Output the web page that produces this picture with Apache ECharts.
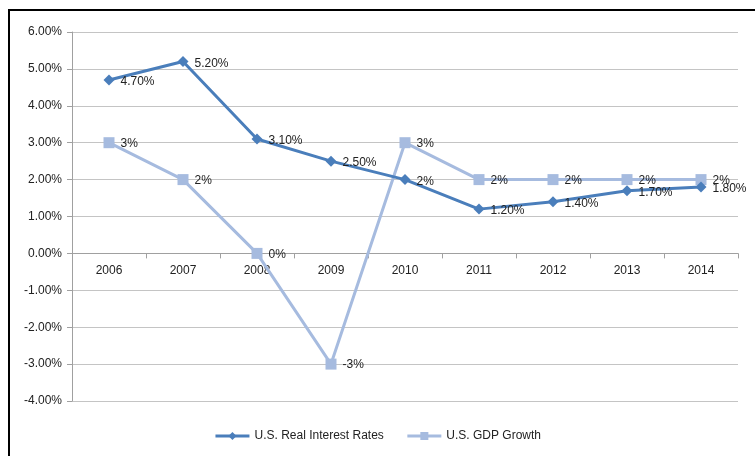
<!DOCTYPE html>
<html>
<head>
<meta charset="utf-8">
<script src="https://cdn.jsdelivr.net/npm/echarts@6/dist/echarts.min.js"></script>
<style>
  html, body { margin: 0; padding: 0; background: #fff; }
  #chart { width: 755px; height: 456px; }
</style>
</head>
<body>
<div id="chart"></div>
<script>
const years = ['2006', '2007', '2008', '2009', '2010', '2011', '2012', '2013', '2014'];
const realInterestRates = [4.7, 5.2, 3.1, 2.5, 2.0, 1.2, 1.4, 1.7, 1.8];
const gdpGrowth = [3, 2, 0, -3, 3, 2, 2, 2, 2];
const yTicks = { min: -4, max: 6, step: 1 };

// "2%" for whole numbers, "4.70%" otherwise
function pctLabel(v) {
  return Number.isInteger(v) ? v + '%' : v.toFixed(2) + '%';
}

const FONT = '"Liberation Sans", Arial, sans-serif';
const DARK = '#4a7ebb';
const LIGHT = '#a6bbdf';

const GRID = { left: 72, right: 17, top: 32, bottom: 55 };
const plotHeight = 456 - GRID.top - GRID.bottom;
// lift the category axis (line, ticks and labels) up to the 0% line
const zeroOffset = -plotHeight * (0 - yTicks.min) / (yTicks.max - yTicks.min);

const chart = echarts.init(document.getElementById('chart'));
chart.setOption({
  animation: false,
  backgroundColor: '#fff',
  textStyle: { fontFamily: FONT },
  graphic: [{
    type: 'rect',
    shape: { x: 9, y: 10, width: 800, height: 500 },
    style: { fill: 'none', stroke: '#000', lineWidth: 2 },
    z: 100
  }],
  grid: GRID,
  legend: {
    bottom: 9,
    left: 'center',
    itemWidth: 34,
    itemHeight: 10,
    itemGap: 22,
    lineStyle: { width: 3 },
    textStyle: { fontFamily: FONT, fontSize: 12, color: '#222' },
    data: ['U.S. Real Interest Rates', 'U.S. GDP Growth']
  },
  xAxis: {
    type: 'category',
    data: years,
    boundaryGap: true,
    offset: zeroOffset,
    axisLine: { onZero: false, lineStyle: { color: '#a0a0a0', width: 1 } },
    axisTick: { show: true, length: 5, lineStyle: { color: '#a0a0a0' } },
    axisLabel: { color: '#222', fontSize: 12, fontFamily: FONT, margin: 11 },
    splitLine: { show: false }
  },
  yAxis: {
    type: 'value',
    min: yTicks.min,
    max: yTicks.max,
    interval: yTicks.step,
    axisLine: { show: true, lineStyle: { color: '#a0a0a0', width: 1 } },
    axisTick: { show: true, length: 5, lineStyle: { color: '#a0a0a0' } },
    axisLabel: {
      color: '#222', fontSize: 12, fontFamily: FONT, margin: 10,
      formatter: v => v.toFixed(2) + '%'
    },
    splitLine: { show: true, lineStyle: { color: '#c4c4c4', width: 1 } }
  },
  series: [
    {
      name: 'U.S. Real Interest Rates',
      type: 'line',
      data: realInterestRates,
      symbol: 'diamond',
      symbolSize: 11,
      lineStyle: { color: DARK, width: 3 },
      itemStyle: { color: DARK },
      label: {
        show: true, position: 'right', distance: 6, offset: [0, 2],
        color: '#222', fontSize: 12, fontFamily: FONT,
        formatter: p => pctLabel(p.value)
      },
      z: 3
    },
    {
      name: 'U.S. GDP Growth',
      type: 'line',
      data: gdpGrowth,
      symbol: 'rect',
      symbolSize: 11,
      lineStyle: { color: LIGHT, width: 3 },
      itemStyle: { color: LIGHT },
      label: {
        show: true, position: 'right', distance: 6, offset: [0, 1],
        color: '#222', fontSize: 12, fontFamily: FONT,
        formatter: p => pctLabel(p.value)
      },
      z: 2
    }
  ]
});
</script>
</body>
</html>
